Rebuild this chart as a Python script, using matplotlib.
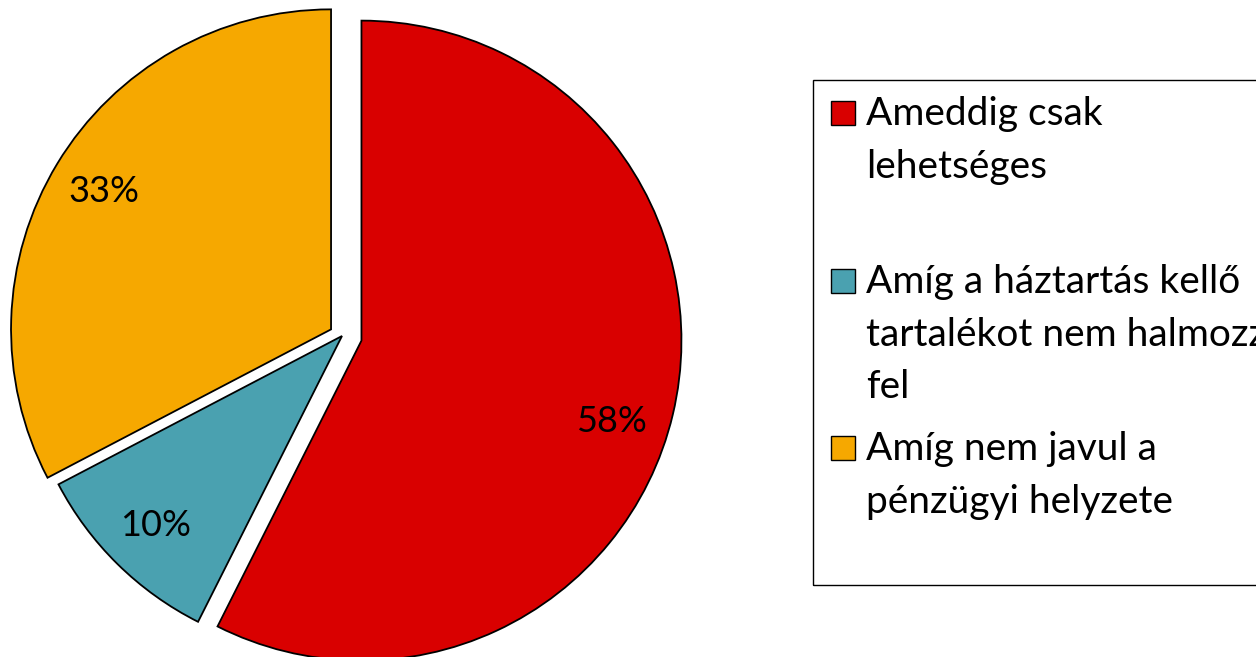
import math
import matplotlib
matplotlib.use("Agg")
import matplotlib.pyplot as plt
from matplotlib.patches import Rectangle

plt.rcParams['font.family'] = ['Lato', 'DejaVu Sans']

# ---- data ----
categories = ["Ameddig csak\nlehetséges",
              "Amíg a háztartás kellő\ntartalékot nem halmozza\nfel",
              "Amíg nem javul a\npénzügyi helyzete"]
values = [58, 10, 33]
colors = ["#D90000", "#4AA1B0", "#F6A800"]

# ---- style / layout ----
R = 320
explode_frac = [0.0625, 0.0, 0.04]
W, H = 1256, 657
fig = plt.figure(figsize=(W / 100, H / 100), dpi=100)
ax = fig.add_axes([0, 0, 1, 1])

total = sum(values)
wedges, _, autotexts = ax.pie(
    values, colors=colors, explode=[e * R for e in explode_frac],
    startangle=90, counterclock=False,
    center=(342, H - 336), radius=R, frame=True,
    autopct=lambda p: f"{round(p * total / 100):.0f}%", pctdistance=0.83,
    wedgeprops=dict(edgecolor='black', linewidth=1.3),
    textprops=dict(fontsize=26, color='black'))
ax.set_xlim(0, W)
ax.set_ylim(0, H)
ax.set_aspect('equal')
ax.axis('off')

# Excel places the largest slice's label a little lower than the bisector
w0 = wedges[0]
ang = math.radians((w0.theta1 + w0.theta2) / 2 - 4.5)
cx, cy = w0.center
autotexts[0].set_position((cx + 0.82 * R * math.cos(ang), cy + 0.82 * R * math.sin(ang)))

# ---- legend (Excel-style, evenly spaced entries) ----
ax.add_patch(Rectangle((813, H - 585), 520, 505, fill=False,
                       edgecolor='black', linewidth=1.0, clip_on=True))
first_base = 125
slot = 167.5
line_h = 53
for i, (lab, col) in enumerate(zip(categories, colors)):
    base = first_base + i * slot
    ax.add_patch(Rectangle((831, H - base), 24, 24, facecolor=col,
                           edgecolor='black', linewidth=1.0))
    for j, line in enumerate(lab.split("\n")):
        ax.text(866, H - (base + j * line_h), line, fontsize=28,
                ha='left', va='baseline', color='black')

fig.savefig("out.png", dpi=100)
